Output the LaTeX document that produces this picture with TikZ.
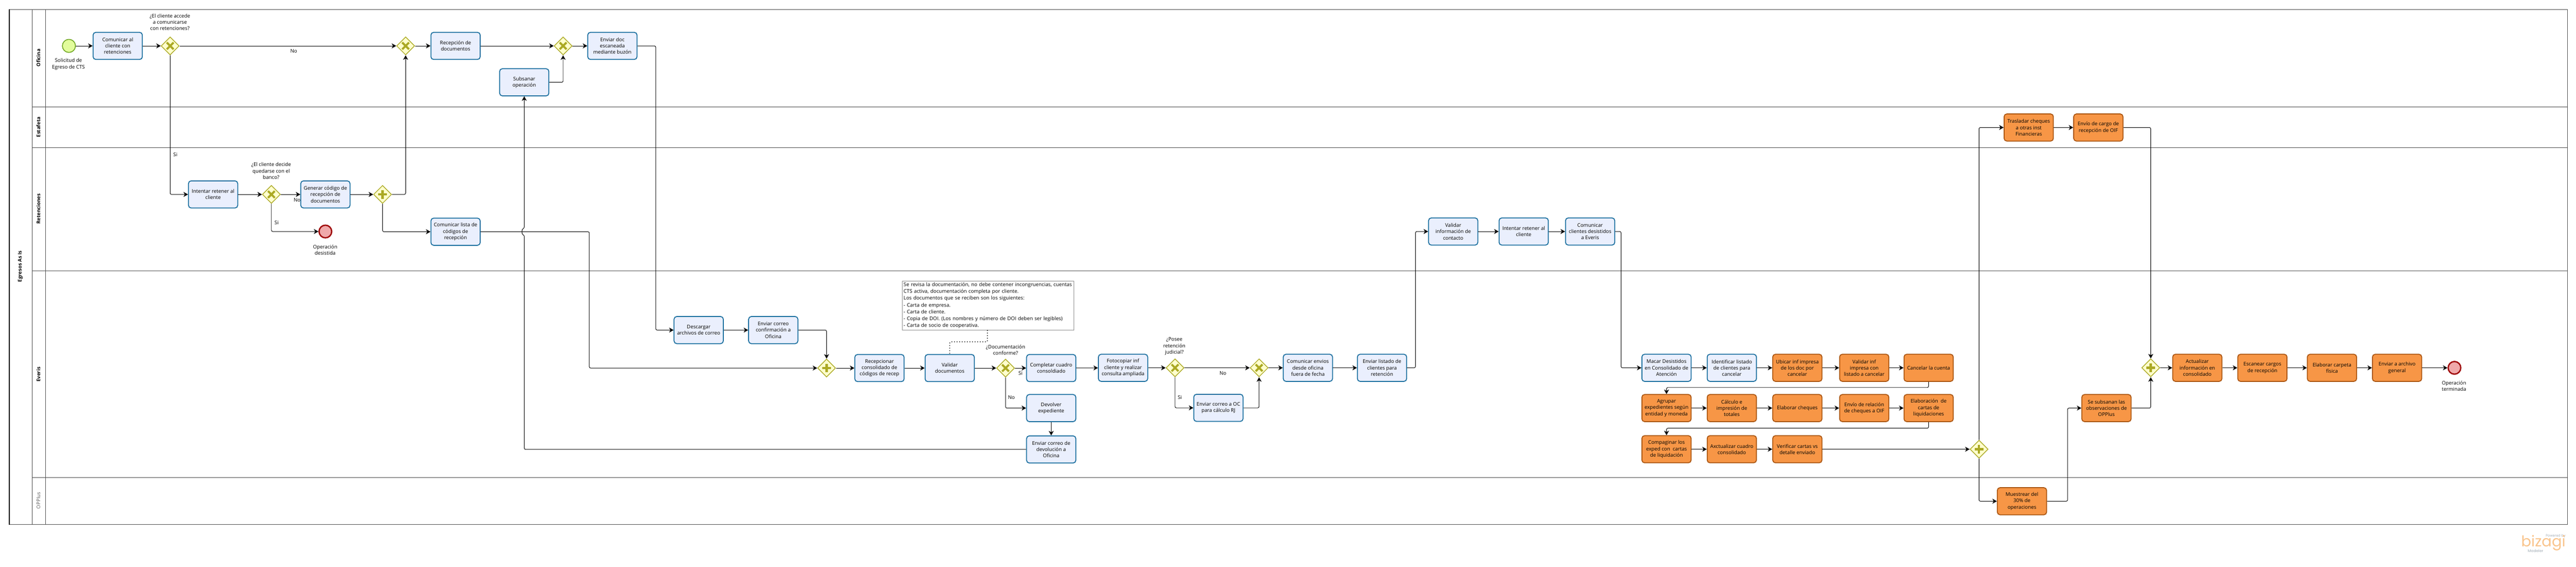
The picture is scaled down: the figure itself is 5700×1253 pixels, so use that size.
\documentclass[tikz,border=0pt]{standalone}
\usepackage{fontspec}
\setmainfont{Open Sans}
\newfontfamily\logofont{Poppins}
\usetikzlibrary{arrows.meta,shapes.geometric}

\definecolor{taskfill}{HTML}{EAEFFD}
\definecolor{taskline}{HTML}{1A6F9F}
\definecolor{hotfill}{HTML}{F79646}
\definecolor{hotline}{HTML}{A9540F}
\definecolor{gatefill}{HTML}{FFFFCC}
\definecolor{gateline}{HTML}{ABA924}
\definecolor{startfill}{HTML}{E2FC9C}
\definecolor{startline}{HTML}{6DA520}
\definecolor{endfill}{HTML}{EFA9AA}
\definecolor{endline}{HTML}{A00C0C}
\definecolor{logoorange}{HTML}{F9C48C}
\definecolor{logogray}{HTML}{A3ADB5}

\tikzset{
  every node/.style={font=\fontsize{11.1}{14}\selectfont},
  lanerule/.style={draw=black!70,line width=1pt},
  lanename/.style={rotate=90,inner sep=0pt,font=\fontsize{11}{14}\selectfont\bfseries},
  taskbox/.style={draw=taskline,fill=taskfill,line width=2pt,rounded corners=6pt,
    minimum width=109pt,minimum height=60pt,align=center,inner sep=0pt},
  hotbox/.style={taskbox,draw=hotline,fill=hotfill},
  notebox/.style={draw=black!45,fill=white,line width=1pt,minimum width=380.5pt,
    minimum height=108.5pt,align=left,inner sep=0pt,text width=374pt,
    font=\fontsize{11.1}{15}\selectfont},
  gateway/.style={diamond,draw=gateline,fill=gatefill,line width=1.6pt,
    minimum width=40pt,minimum height=40pt,inner sep=0pt},
  gatex/.style={gateway,path picture={
    \draw[gateline,line width=4.5pt]
      ([shift={(-7.5,-7.5)}]path picture bounding box.center) -- ([shift={(7.5,7.5)}]path picture bounding box.center)
      ([shift={(-7.5,7.5)}]path picture bounding box.center) -- ([shift={(7.5,-7.5)}]path picture bounding box.center);}},
  gateplus/.style={gateway,path picture={
    \draw[gateline,line width=5pt]
      ([shift={(-10,0)}]path picture bounding box.center) -- ([shift={(10,0)}]path picture bounding box.center)
      ([shift={(0,-9.5)}]path picture bounding box.center) -- ([shift={(0,9.5)}]path picture bounding box.center);}},
  startev/.style={circle,draw=startline,fill=startfill,line width=1.8pt,minimum size=29pt,inner sep=0pt},
  endev/.style={circle,draw=endline,fill=endfill,line width=3pt,minimum size=28pt,inner sep=0pt},
  caption/.style={align=center,inner sep=0pt},
  flow/.style={draw=black,line width=1.1pt,rounded corners=3pt,
    -{Stealth[length=10pt,width=11pt,inset=3pt]}},
  assoc/.style={draw=black,line width=1.7pt,dash pattern=on 1.7pt off 4pt,rounded corners=3pt}
}

\begin{document}
\begin{tikzpicture}[x=1pt,y=-1pt]
  \useasboundingbox (0,0) rectangle (5700,1253);

  % Pool and lanes
  \draw[lanerule] (20.5,20.5) rectangle (5681,1160);
  \draw[draw=black,line width=1.4pt] (20.5,20.5) -- (20.5,1160);
  \draw[lanerule] (71,20.5) -- (71,1160);
  \draw[lanerule] (100.5,20.5) -- (100.5,1160);
  \foreach \yy in {236,326,599.5,1056}
    \draw[lanerule] (71,\yy) -- (5681,\yy);

  % Pool and lane names
  \node[lanename] (poolname) at (45,589) {Egresos As Is};
  \foreach \yy/\nm/\txt in {128/laneof/Oficina,281/lanees/Estafeta,462/lanere/Retenciones,828/laneev/Everis}
    \node[lanename] (\nm) at (85,\yy) {\txt};
  \node[lanename,font=\fontsize{11}{14}\selectfont,text=black!65] (laneop) at (85,1107) {OPPlus};

  % Oficina
  \node[startev] (inicio) at (152.5,101.5) {};
  \node[caption] (capinicio) at (151.5,142) {Solicitud de\\Egreso de CTS};
  \node[taskbox] (comunicar) at (260.5,101.5) {Comunicar al\\cliente con\\retenciones};
  \node[gatex] (gaccede) at (376.5,101.5) {};
  \node[caption] (capaccede) at (376,49) {¿El cliente accede\\a comunicarse\\con retenciones?};
  \node[gatex] (gunion) at (897.5,101.5) {};
  \node[taskbox] (recepcion) at (1008,101.5) {Recepción de\\documentos};
  \node[gatex] (gdocs) at (1246,101.5) {};
  \node[taskbox] (enviardoc) at (1355,101.5) {Enviar doc\\escaneada\\mediante buzón};
  \node[taskbox] (subsanar) at (1160,182) {Subsanar\\operación};

  % Retenciones
  \node[taskbox] (retener) at (471.5,430) {Intentar retener al\\cliente};
  \node[gatex] (gdecide) at (600.5,430) {};
  \node[caption] (capdecide) at (600,378) {¿El cliente decide\\quedarse con el\\banco?};
  \node[taskbox] (generar) at (720,430) {Generar código de\\recepción de\\documentos};
  \node[gateplus] (pcodigo) at (846.5,430) {};
  \node[endev] (desistida) at (720,512) {};
  \node[caption] (capdesistida) at (719.5,553) {Operación\\desistida};
  \node[taskbox] (comlista) at (1008,512.5) {Comunicar lista de\\códigos de\\recepción};
  \node[taskbox] (validarinf) at (3215.5,512) {Validar\\información de\\contacto};
  \node[taskbox] (retener2) at (3371.5,512) {Intentar retener al\\cliente};
  \node[taskbox] (comclientes) at (3518.5,512) {Comunicar\\clientes desistidos\\a Everis};

  % Everis
  \node[taskbox] (descargar) at (1546,730) {Descargar\\archivos de correo};
  \node[taskbox] (confirmacion) at (1711,730) {Enviar correo\\confirmación a\\Oficina};
  \node[gateplus] (precep) at (1829,814) {};
  \node[taskbox] (recepcionar) at (1946,814) {Recepcionar\\consolidado de\\códigos de recep};
  \node[taskbox] (validardoc) at (2101.5,814) {Validar\\documentos};
  \node[notebox] (nota) at (2186.5,675.5) {Se revisa la documentación, no debe contener incongruencias, cuentas\\CTS activa, documentación completa por cliente.\\Los documentos que se reciben son los siguientes:\\- Carta de empresa.\\- Carta de cliente.\\- Copia de DOI. (Los nombres y número de DOI deben ser legibles)\\- Carta de socio de cooperativa.};
  \node[gatex] (gconforme) at (2225,814) {};
  \node[caption] (capconforme) at (2225,774) {¿Documentación\\conforme?};
  \node[taskbox] (completar) at (2326,814) {Completar cuadro\\consoldiado};
  \node[taskbox] (devolver) at (2326,902.5) {Devolver\\expediente};
  \node[taskbox] (devolucion) at (2326,994) {Enviar correo de\\devolución a\\Oficina};
  \node[taskbox] (fotocopiar) at (2485,813.5) {Fotocopiar inf\\cliente y realizar\\consulta ampliada};
  \node[gatex] (gjudicial) at (2600,813.5) {};
  \node[caption] (capjudicial) at (2598.5,766) {¿Posee\\retención\\judicial?};
  \node[gatex] (gjudfin) at (2786,813.5) {};
  \node[taskbox] (correooc) at (2696,902) {Enviar correo a OC\\para cálculo RJ};
  \node[taskbox] (envios) at (2894,813.5) {Comunicar envios\\desde oficina\\fuera de fecha};
  \node[taskbox] (listado) at (3058,813.5) {Enviar listado de\\clientes para\\retención};
  \node[taskbox] (macar) at (3687.5,813.5) {Macar Desistidos\\en Consolidado de\\Atención};
  \node[taskbox] (identificar) at (3832,813.5) {Identificar listado\\de clientes para\\cancelar};
  \node[hotbox] (ubicar) at (3977,813.5) {Ubicar inf impresa\\de los doc por\\cancelar};
  \node[hotbox] (validarimp) at (4125,813.5) {Validar inf\\impresa con\\listado a cancelar};
  \node[hotbox] (cancelar) at (4267.5,813.5) {Cancelar la cuenta};
  \node[hotbox] (agrupar) at (3687.5,902.5) {Agrupar\\expedientes según\\entidad y moneda};
  \node[hotbox] (calculo) at (3832,902.5) {Cálculo e\\impresión de\\totales};
  \node[hotbox] (cheques) at (3977,902.5) {Elaborar cheques};
  \node[hotbox] (relacion) at (4125,902.5) {Envío de relación\\de cheques a OIF};
  \node[hotbox] (cartas) at (4267.5,902.5) {Elaboración\ \ de\\cartas de\\liquidaciones};
  \node[hotbox] (compaginar) at (3687.5,993.5) {Compaginar los\\exped con\ \ cartas\\de liquidación};
  \node[hotbox] (axctualizar) at (3832,993.5) {Axctualizar cuadro\\consolidado};
  \node[hotbox] (verificar) at (3977,993.5) {Verificar cartas vs\\detalle enviado};
  \node[gateplus] (pcheques) at (4379,993.5) {};
  \node[hotbox] (subsanan) at (4661,902.5) {Se subsanan las\\observaciones de\\OPPlus};
  \node[gateplus] (pfinal) at (4759,813.5) {};
  \node[hotbox] (actualizar) at (4862,813.5) {Actualizar\\información en\\consolidado};
  \node[hotbox] (escanear) at (5006,813.5) {Escanear cargos\\de recepción};
  \node[hotbox] (carpeta) at (5160,813.5) {Elaborar carpeta\\física};
  \node[hotbox] (archivo) at (5304,813.5) {Enviar a archivo\\general};
  \node[endev] (terminada) at (5431,813.5) {};
  \node[caption] (capterminada) at (5430,854) {Operación\\terminada};

  % Estafeta
  \node[hotbox] (trasladar) at (4489,282) {Trasladar cheques\\a otras inst\\Financieras};
  \node[hotbox] (cargo) at (4643,282) {Envío de cargo de\\recepción de OIF};

  % OPPlus
  \node[hotbox] (muestrear) at (4474,1108.5) {Muestrear del\\30\% de\\operaciones};

  % Branch labels
  \foreach \xx/\yy/\nm/\txt in {650/113/lblno/No,388/342/lblsi/Si,657.5/442/lbldeno/No,612/493/lbldesi/Si,
      2258/825/lblcosi/Si,2238/879/lblcono/No,2706/825/lbljuno/No,2610.5/879/lbljusi/Si}
    \node[caption] (\nm) at (\xx,\yy) {\txt};

  % Straight flows
  \foreach \aa/\bb in {inicio/comunicar,comunicar/gaccede,gaccede/gunion,gunion/recepcion,recepcion/gdocs,
      gdocs/enviardoc,retener/gdecide,gdecide/generar,generar/pcodigo,descargar/confirmacion,
      precep/recepcionar,recepcionar/validardoc,validardoc/gconforme,gconforme/completar,
      completar/fotocopiar,fotocopiar/gjudicial,gjudicial/gjudfin,gjudfin/envios,envios/listado,
      validarinf/retener2,retener2/comclientes,macar/identificar,identificar/ubicar,ubicar/validarimp,
      validarimp/cancelar,agrupar/calculo,calculo/cheques,cheques/relacion,relacion/cartas,
      compaginar/axctualizar,axctualizar/verificar,verificar/pcheques,trasladar/cargo,
      pfinal/actualizar,actualizar/escanear,escanear/carpeta,carpeta/archivo,archivo/terminada}
    \draw[flow] (\aa) -- (\bb);

  % Waypoints
  \coordinate (bajadoc) at (1451,730);
  \coordinate (bajalista) at (1304,814);
  \coordinate (subeval) at (3132,512);
  \coordinate (bajaclientes) at (3587,813.5);
  \coordinate (filauno) at (4000,857);
  \coordinate (filados) at (4000,947);
  \coordinate (subeobs) at (4575,902.5);
  \coordinate (saltoa) at (1160,520);
  \coordinate (saltob) at (1160,505);
  \coordinate (vueltadev) at (1160,994);
  \coordinate (notasale) at (2185,730);
  \coordinate (notaa) at (2185,756);
  \coordinate (notab) at (2101.5,756);

  % Elbow flows
  \draw[flow] (gaccede.south) |- (retener.west);
  \draw[flow] (pcodigo.east) -| (gunion.south);
  \draw[flow] (gdecide.south) |- (desistida.west);
  \draw[flow] (pcodigo.south) |- (comlista.west);
  \draw[flow] (subsanar.east) -| (gdocs.south);
  \draw[flow] (enviardoc.east) -| (bajadoc) -- (descargar.west);
  \draw[flow] (comlista.east) -| (bajalista) -- (precep.west);
  \draw[flow] (confirmacion.east) -| (precep.north);
  \draw[flow] (gconforme.south) |- (devolver.west);
  \draw[flow] (devolver.south) -- (devolucion.north);
  \draw[flow] (gjudicial.south) |- (correooc.west);
  \draw[flow] (correooc.east) -| (gjudfin.south);
  \draw[flow] (listado.east) -| (subeval) -- (validarinf.west);
  \draw[flow] (comclientes.east) -| (bajaclientes) -- (macar.west);
  \draw[flow] (cancelar.south) |- (filauno) -| (agrupar.north);
  \draw[flow] (cartas.south) |- (filados) -| (compaginar.north);
  \draw[flow] (pcheques.north) |- (trasladar.west);
  \draw[flow] (pcheques.south) |- (muestrear.west);
  \draw[flow] (muestrear.east) -| (subeobs) -- (subsanan.west);
  \draw[flow] (subsanan.east) -| (pfinal.south);
  \draw[flow] (cargo.east) -| (pfinal.north);

  % Return with the jump over the line of the code list
  \draw[flow] (devolucion.west) -- (vueltadev) -- (saltoa)
    .. controls (1154,518) and (1154,507) .. (saltob) -- (subsanar.south);

  % Note
  \draw[assoc] (notasale) -- (notaa) -- (notab) -- (validardoc.north);

  % Logo
  \node[inner sep=0pt,anchor=east,text=logogray,font=\logofont\fontsize{7.5}{9}\selectfont] (logopow) at (5677,1185) {Powered by};
  \node[inner sep=0pt,anchor=east,text=logoorange,font=\logofont\fontsize{33}{33}\selectfont] (logoname) at (5677,1201) {bizagi};
  \node[inner sep=0pt,anchor=west,text=logogray,font=\logofont\fontsize{8.5}{9}\selectfont] (logomod) at (5593,1218) {Modeler};
\end{tikzpicture}
\end{document}
